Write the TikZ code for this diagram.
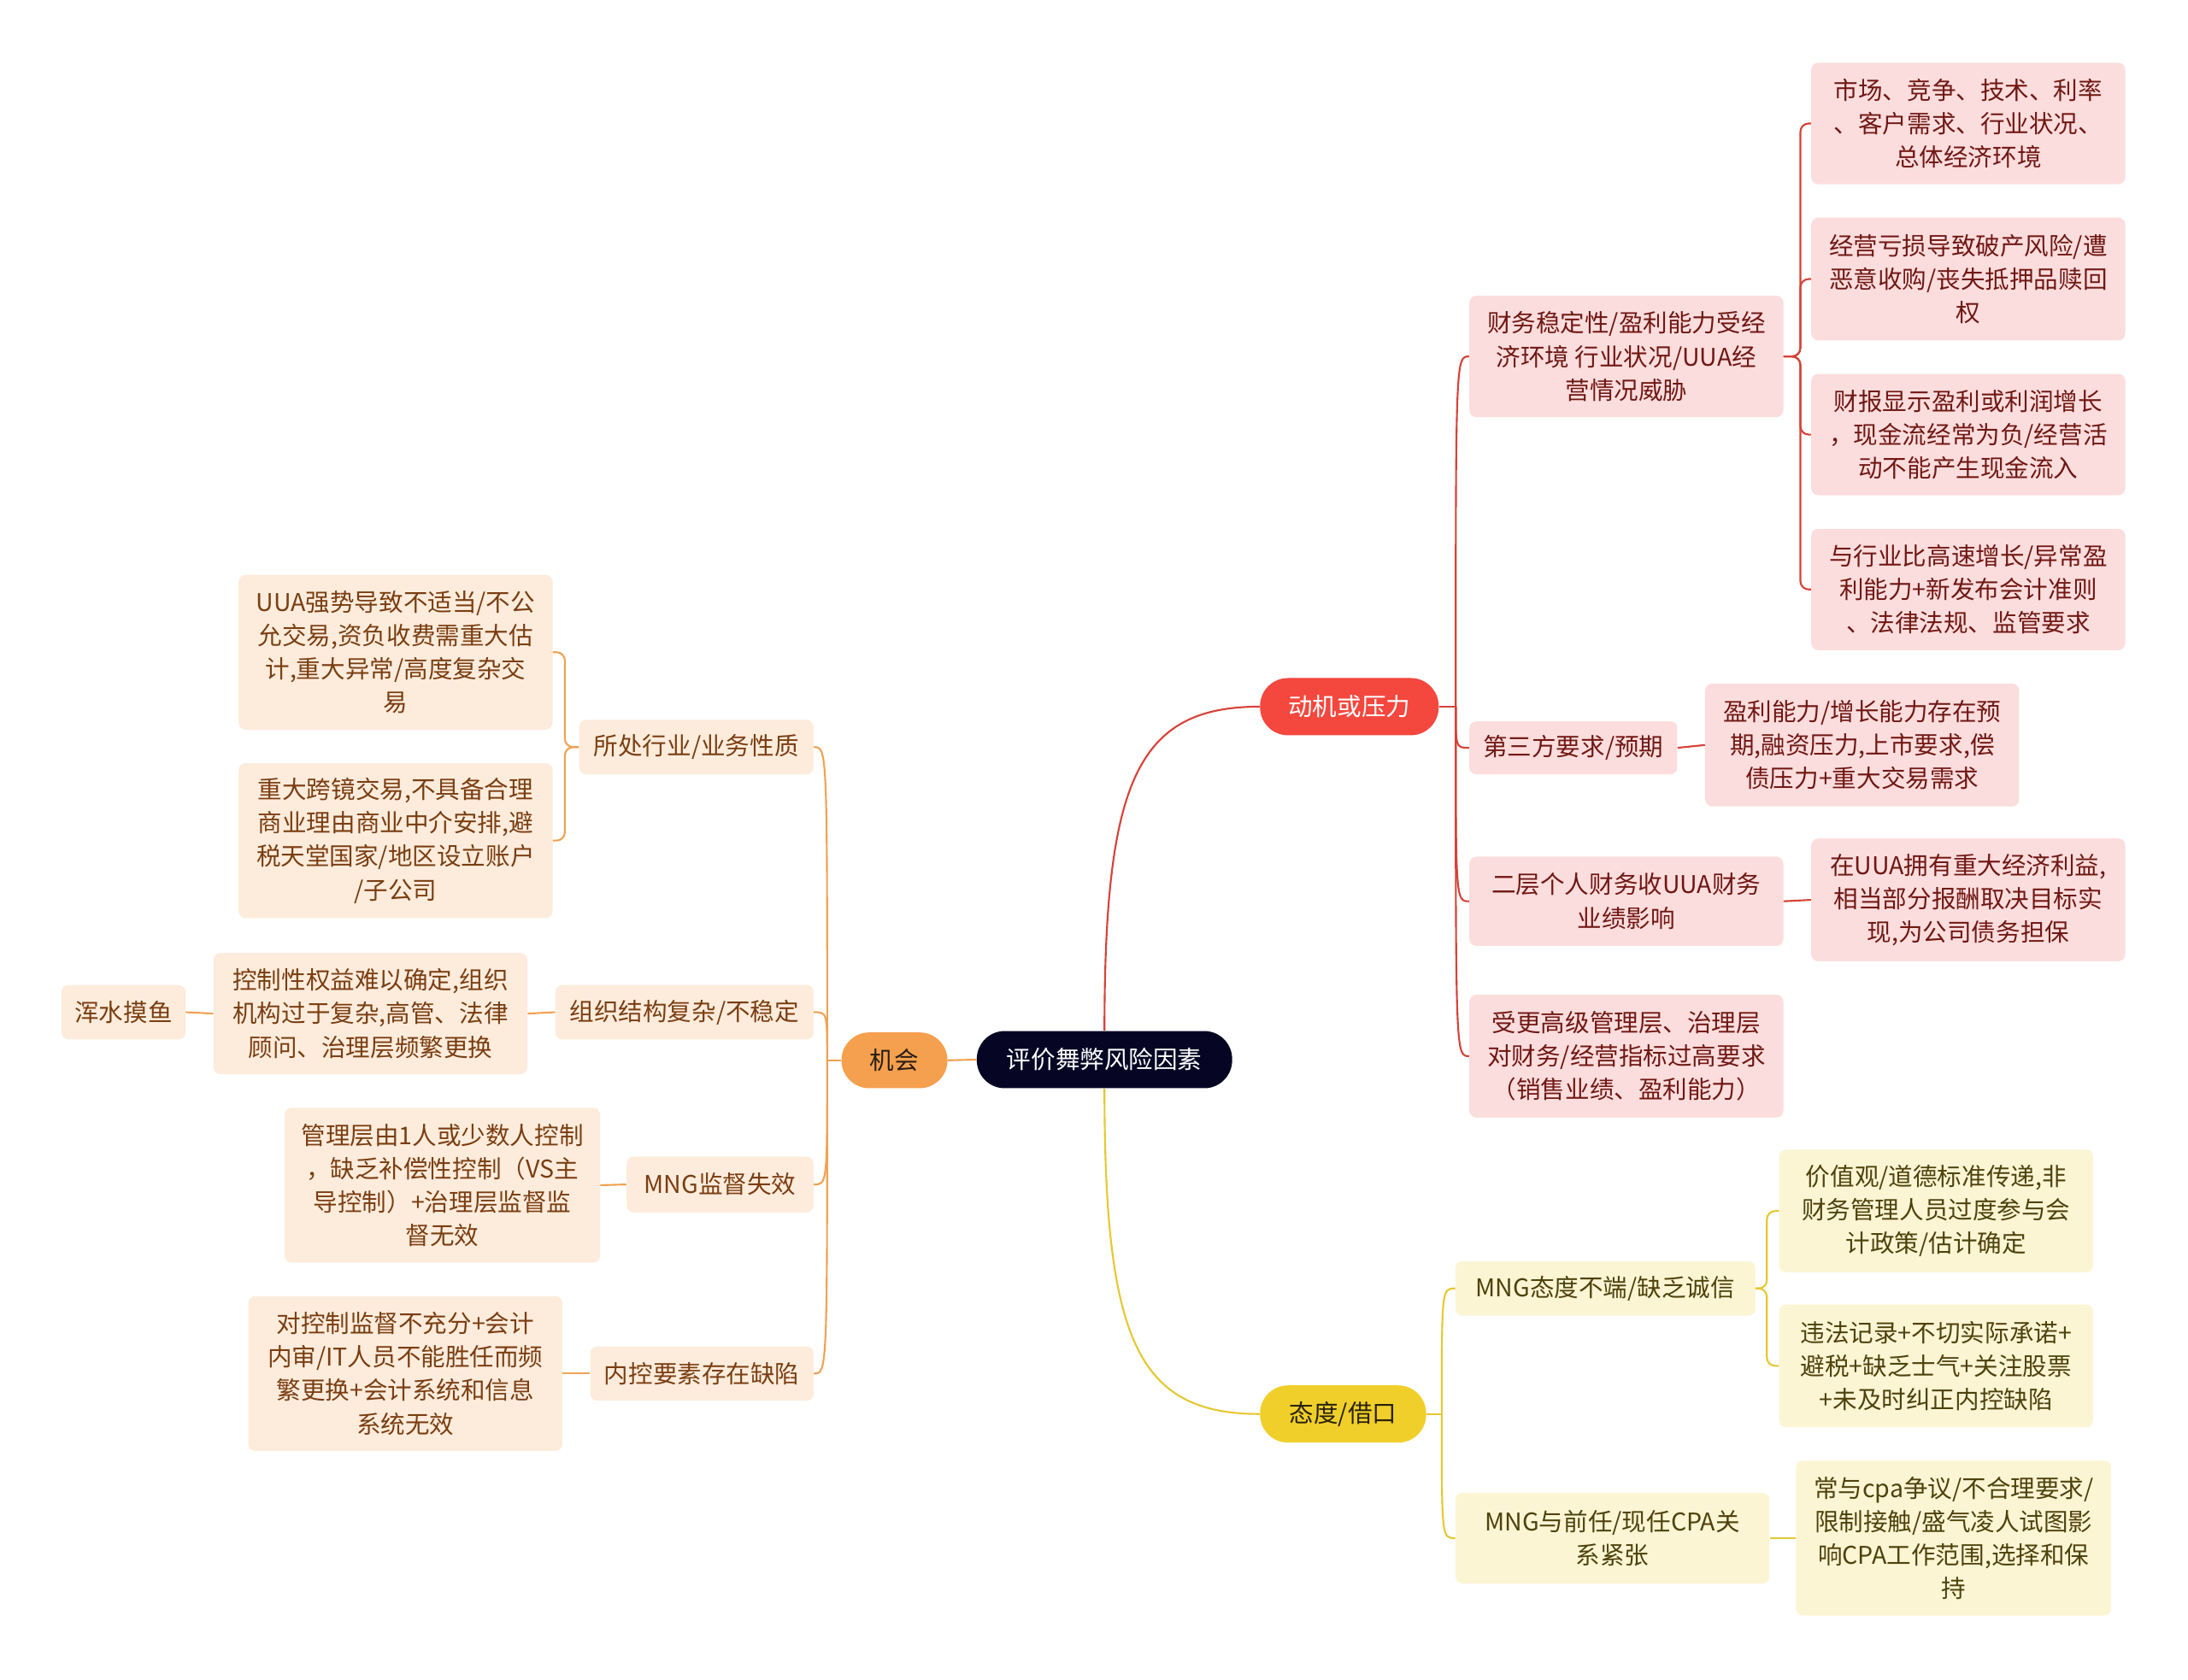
\documentclass[tikz,border=0pt]{standalone}
\usepackage{fontspec}
\setmainfont{Noto Sans CJK SC}
\usetikzlibrary{calc}
\definecolor{rootF}{RGB}{6,6,36}
\definecolor{redF}{RGB}{244,71,62}
\definecolor{oraF}{RGB}{245,160,78}
\definecolor{yelF}{RGB}{240,207,42}
\definecolor{pinkF}{RGB}{252,221,221}
\definecolor{peachF}{RGB}{253,236,220}
\definecolor{ltyF}{RGB}{252,245,212}
\definecolor{pinkT}{RGB}{112,24,20}
\definecolor{peachT}{RGB}{122,62,18}
\definecolor{ltyT}{RGB}{78,66,12}
\definecolor{redL}{RGB}{214,66,56}
\definecolor{oraL}{RGB}{240,162,82}
\definecolor{yelL}{RGB}{230,200,50}
\tikzset{
  txt/.style={align=center, inner sep=0pt, font=\fontsize{17.5}{24}\selectfont},
  pill/.style={txt, rounded corners=20, minimum height=41},
  box/.style={txt, rounded corners=5},
  pinkbox/.style={box, fill=pinkF, text=pinkT},
  peachbox/.style={box, fill=peachF, text=peachT},
  ltybox/.style={box, fill=ltyF, text=ltyT},
  redln/.style={draw=redL, line width=1.3},
  oraln/.style={draw=oraL, line width=1.3},
  yelln/.style={draw=yelL, line width=1.3},
}
\begin{document}
\begin{tikzpicture}[x=1pt,y=-1pt]
\useasboundingbox[fill=white] (0,0) rectangle (1568,1204);

% root and main branches
\node[pill, fill=rootF, text=white, minimum width=183] (root) at (791.5,759.5) {评价舞弊风险因素};
\node[pill, fill=redF, text=white, minimum width=128] (mot) at (967,506.5) {动机或压力};
\node[pill, fill=oraF, text={rgb,255:red,40;green,30;blue,20}, minimum width=76, minimum height=40] (opp) at (641,760) {机会};
\node[pill, fill=yelF, text={rgb,255:red,40;green,32;blue,10}, minimum width=119] (att) at (962.5,1013.5) {态度/借口};

% red branch
\node[pinkbox, minimum width=225, minimum height=87] (A1) at (1165.5,255.5) {财务稳定性/盈利能力受经\\济环境 行业状况/UUA经\\营情况威胁};
\node[pinkbox, minimum width=149, minimum height=38] (A2) at (1127.5,536) {第三方要求/预期};
\node[pinkbox, minimum width=225, minimum height=64] (A3) at (1165.5,646) {二层个人财务收UUA财务\\业绩影响};
\node[pinkbox, minimum width=225, minimum height=88] (A4) at (1165.5,757) {受更高级管理层、治理层\\对财务/经营指标过高要求\\（销售业绩、盈利能力）};
\node[pinkbox, minimum width=225, minimum height=87] (B1) at (1410.5,88.5) {市场、竞争、技术、利率\\、客户需求、行业状况、\\总体经济环境};
\node[pinkbox, minimum width=225, minimum height=88] (B2) at (1410.5,200) {经营亏损导致破产风险/遭\\恶意收购/丧失抵押品赎回\\权};
\node[pinkbox, minimum width=225, minimum height=87] (B3) at (1410.5,311.5) {财报显示盈利或利润增长\\，现金流经常为负/经营活\\动不能产生现金流入};
\node[pinkbox, minimum width=225, minimum height=87] (B4) at (1410.5,422.5) {与行业比高速增长/异常盈\\利能力+新发布会计准则\\、法律法规、监管要求};
\node[pinkbox, minimum width=225, minimum height=88] (C1) at (1334.5,534) {盈利能力/增长能力存在预\\期,融资压力,上市要求,偿\\债压力+重大交易需求};
\node[pinkbox, minimum width=225, minimum height=88] (C2) at (1410.5,645) {在UUA拥有重大经济利益,\\相当部分报酬取决目标实\\现,为公司债务担保};

% yellow branch
\node[ltybox, minimum width=215, minimum height=39] (D1) at (1150.5,923.5) {MNG态度不端/缺乏诚信};
\node[ltybox, minimum width=225, minimum height=65] (D2) at (1155.5,1102.5) {MNG与前任/现任CPA关\\系紧张};
\node[ltybox, minimum width=225, minimum height=88] (E1) at (1387.5,868) {价值观/道德标准传递,非\\财务管理人员过度参与会\\计政策/估计确定};
\node[ltybox, minimum width=225, minimum height=88] (E2) at (1387.5,979) {违法记录+不切实际承诺+\\避税+缺乏士气+关注股票\\+未及时纠正内控缺陷};
\node[ltybox, minimum width=226, minimum height=111] (E3) at (1400,1102.5) {常与cpa争议/不合理要求/\\限制接触/盛气凌人试图影\\响CPA工作范围,选择和保\\持};

% orange branch
\node[peachbox, minimum width=168, minimum height=39] (F1) at (499,535.5) {所处行业/业务性质};
\node[peachbox, minimum width=185, minimum height=39] (F2) at (490.5,725.5) {组织结构复杂/不稳定};
\node[peachbox, minimum width=134, minimum height=40] (F3) at (516,849) {MNG监督失效};
\node[peachbox, minimum width=160, minimum height=39] (F4) at (503,984.5) {内控要素存在缺陷};
\node[peachbox, minimum width=225, minimum height=111] (G1) at (283.5,467.5) {UUA强势导致不适当/不公\\允交易,资负收费需重大估\\计,重大异常/高度复杂交\\易};
\node[peachbox, minimum width=225, minimum height=111] (G2) at (283.5,602.5) {重大跨镜交易,不具备合理\\商业理由商业中介安排,避\\税天堂国家/地区设立账户\\/子公司};
\node[peachbox, minimum width=225, minimum height=87] (G3) at (265.5,726.5) {控制性权益难以确定,组织\\机构过于复杂,高管、法律\\顾问、治理层频繁更换};
\node[peachbox, minimum width=89, minimum height=39] (H1) at (88.5,725.5) {浑水摸鱼};
\node[peachbox, minimum width=226, minimum height=111] (G4) at (317,849.5) {管理层由1人或少数人控制\\，缺乏补偿性控制（VS主\\导控制）+治理层监督监\\督无效};
\node[peachbox, minimum width=225, minimum height=111] (G5) at (290.5,984.5) {对控制监督不充分+会计\\内审/IT人员不能胜任而频\\繁更换+会计系统和信息\\系统无效};

% connectors from root
\draw[oraln] (root.west) -- (opp.east);
\draw[redln] (root.north) .. controls ($(root.north)+(0,-179)$) and ($(mot.west)+(-88,0)$) .. (mot.west);
\draw[yelln] (root.south) .. controls ($(root.south)+(0,180)$) and ($(att.west)+(-88,0)$) .. (att.west);

% red level 2
\coordinate (mt) at ($(mot.east)+(12,0)$);
\draw[redln] (mot.east) -- (mt);
\foreach \c in {A1,A2,A3,A4}
  \draw[redln] (mt) .. controls (mt |- \c.west) and (mt |- \c.west) .. (\c.west);
\foreach \c in {B1,B2,B3,B4}
  \draw[redln, rounded corners=6] (A1.east) -- ++(12,0) |- (\c.west);
\draw[redln] (A2.east) -- (C1.west);
\draw[redln] (A3.east) -- (C2.west);

% yellow level 2
\coordinate (at) at ($(att.east)+(11,0)$);
\draw[yelln] (att.east) -- (at);
\foreach \c in {D1,D2}
  \draw[yelln] (at) .. controls (at |- \c.west) and (at |- \c.west) .. (\c.west);
\foreach \c in {E1,E2}
  \draw[yelln, rounded corners=6] (D1.east) -- ++(8,0) |- (\c.west);
\draw[yelln] (D2.east) -- (E3.west);

% orange level 2
\coordinate (ot) at ($(opp.west)+(-10,0)$);
\draw[oraln] (opp.west) -- (ot);
\foreach \c in {F1,F2,F3,F4}
  \draw[oraln] (ot) .. controls (ot |- \c.east) and (ot |- \c.east) .. (\c.east);
\foreach \c in {G1,G2}
  \draw[oraln, rounded corners=6] (F1.west) -- ++(-10,0) |- (\c.east);
\draw[oraln] (F2.west) -- (G3.east);
\draw[oraln] (G3.west) -- (H1.east);
\draw[oraln] (F3.west) -- (G4.east);
\draw[oraln] (F4.west) -- (G5.east);
\end{tikzpicture}
\end{document}
